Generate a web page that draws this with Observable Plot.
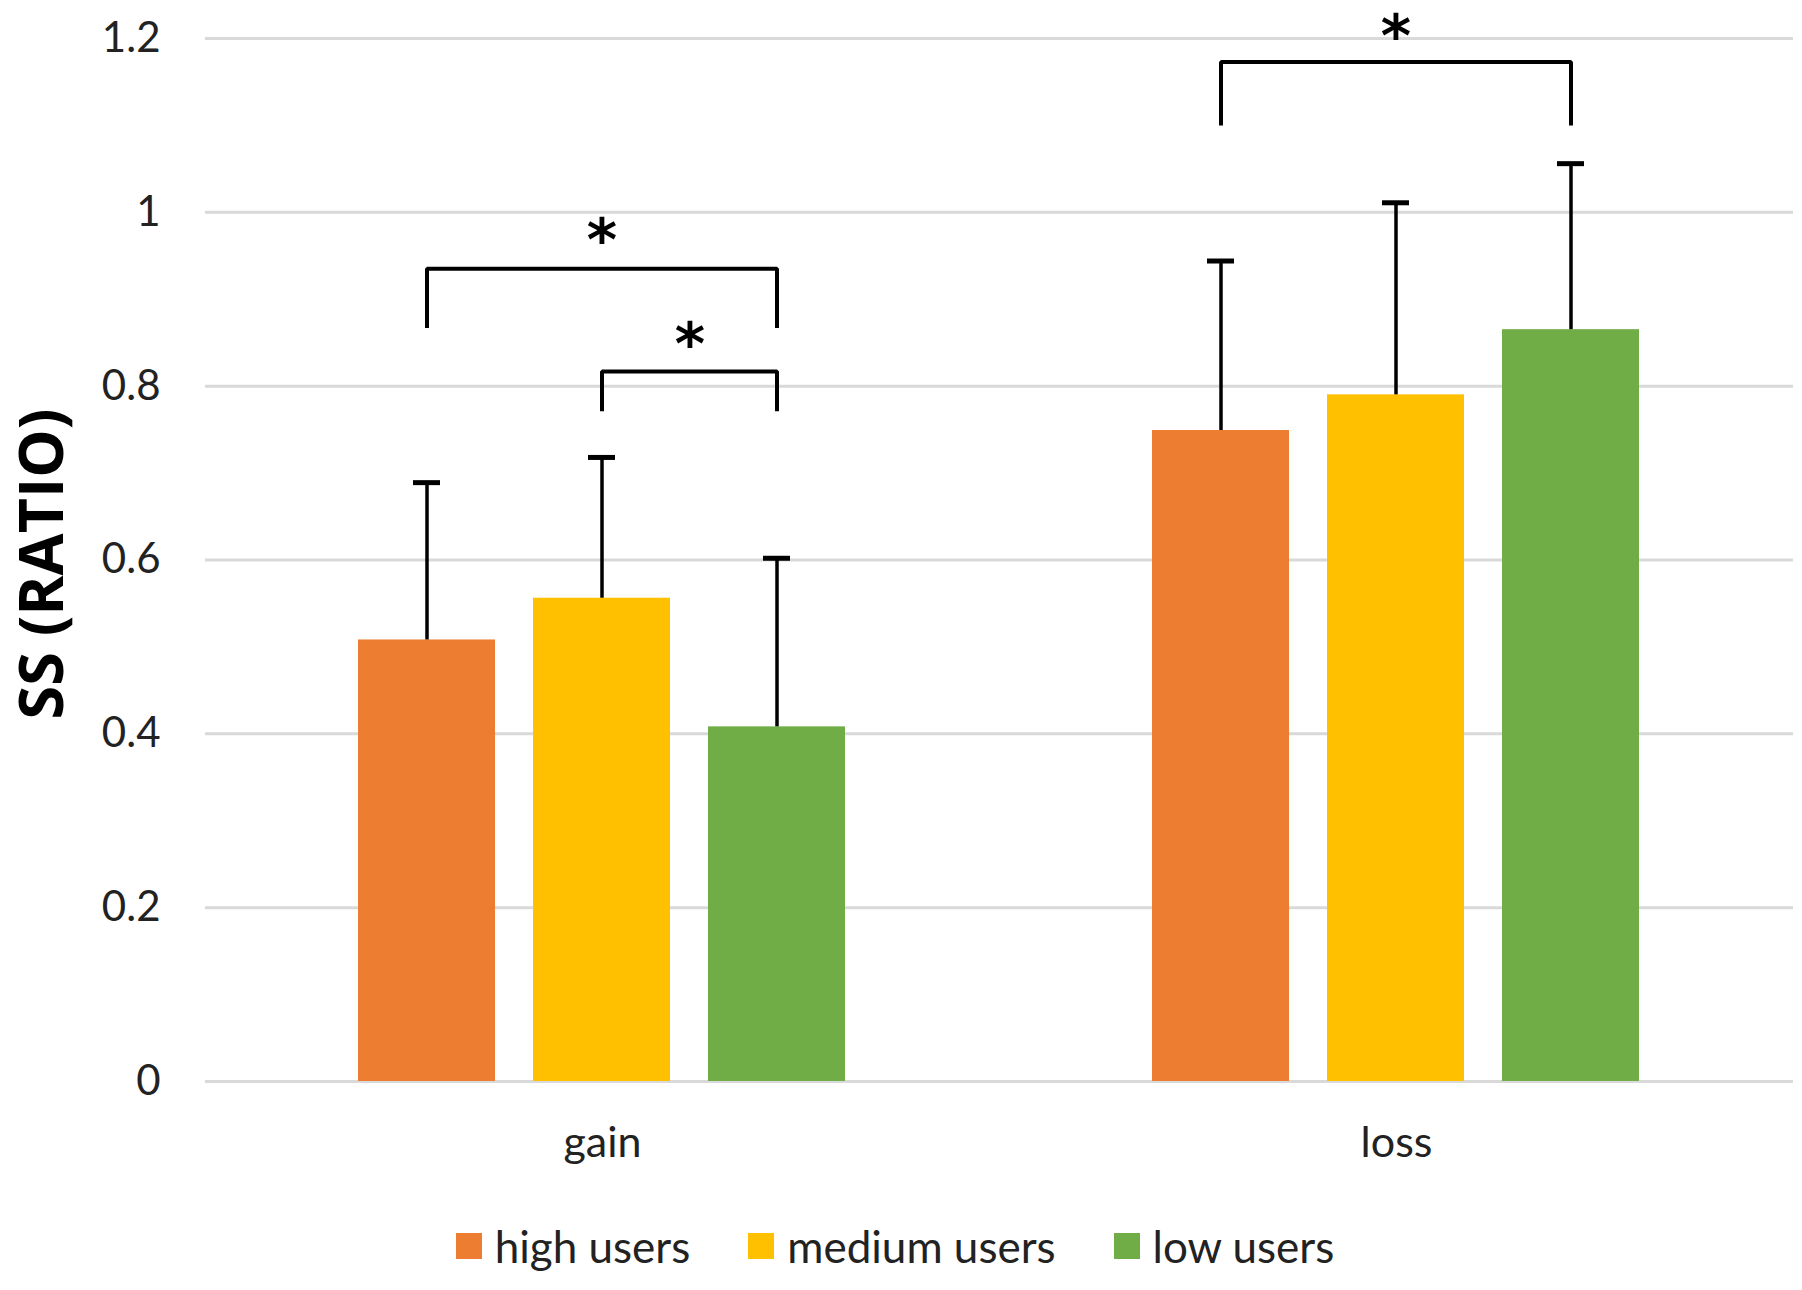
<!DOCTYPE html>
<html>
<head>
<meta charset="utf-8">
<script src="https://cdn.jsdelivr.net/npm/d3@7"></script>
<script src="https://cdn.jsdelivr.net/npm/@observablehq/plot@0.6"></script>
<style>
  html, body { margin: 0; padding: 0; background: #fff; }
  body { width: 1802px; height: 1290px; position: relative; overflow: hidden; font-family: Lato, "Open Sans", sans-serif; }
  #chart { position: absolute; left: 0; top: 0; }
  #legend { position: absolute; left: 0; top: 1221px; width: 1790px; padding-right: 12px; height: 50px;
            display: flex; justify-content: center; align-items: center;
            font-size: 44px; color: #222; font-family: Lato, sans-serif; }
  .item { display: flex; align-items: center; margin: 0 29px; }
  .sw { width: 26px; height: 26px; margin-right: 13px; flex: none; }
</style>
</head>
<body>
<div id="chart"></div>
<div id="legend"></div>
<script>
// ---- data ----
const conditions = ["gain", "loss"];
const groups = ["high users", "medium users", "low users"];
const colors = ["#ED7D31", "#FFC000", "#70AD47"];
const gainMeans = [0.508, 0.556, 0.408];
const gainSD    = [0.181, 0.162, 0.194];
const lossMeans = [0.749, 0.790, 0.865];
const lossSD    = [0.195, 0.221, 0.191];
const yTicks = [0, 0.2, 0.4, 0.6, 0.8, 1, 1.2];
const yLabel = "SS (RATIO)";
// significance brackets
const bracketCond = ["gain", "gain", "loss"];
const bracketFrom = ["high users", "medium users", "high users"];
const bracketTo   = ["low users", "low users", "low users"];
const bracketTop  = [0.935, 0.817, 1.173];
const bracketLeg  = [0.867, 0.771, 1.100];
const starY       = [0.977, 0.857, 1.212];
const starText    = ["*", "*", "*"];

// ---- tables built from the arrays ----
const bars = [
  ...groups.map((g, i) => ({cond: "gain", group: g, mean: gainMeans[i], sd: gainSD[i]})),
  ...groups.map((g, i) => ({cond: "loss", group: g, mean: lossMeans[i], sd: lossSD[i]}))
];
const bracketPts = bracketCond.flatMap((c, i) => [
  {id: i, cond: c, x: bracketFrom[i], y: bracketLeg[i]},
  {id: i, cond: c, x: bracketFrom[i], y: bracketTop[i]},
  {id: i, cond: c, x: bracketTo[i], y: bracketTop[i]},
  {id: i, cond: c, x: bracketTo[i], y: bracketLeg[i]}
]);

// ---- layout ----
const W = 1802, H = 1200, mL = 205, mR = 9, mT = 38, mB = 119;
const xPadIn = 0.216, xPadOut = 0.864;
const facetW = (W - mL - mR) / conditions.length;
const xStep = facetW / (groups.length - xPadIn + 2 * xPadOut);

const starMarks = bracketCond.map((c, i) => {
  const mid = (groups.indexOf(bracketFrom[i]) + groups.indexOf(bracketTo[i])) / 2;
  const base = Math.floor(mid);
  return Plot.text([{cond: c, x: groups[base], y: starY[i], t: starText[i]}], {
    fx: "cond", x: "x", y: "y", text: "t",
    dx: (mid - base) * xStep, dy: 9,
    fontSize: 58, fontWeight: 700, fill: "#000", fontFamily: "'DejaVu Sans', sans-serif"
  });
});

const chart = Plot.plot({
  width: W, height: H,
  marginLeft: mL, marginRight: mR, marginTop: mT, marginBottom: mB,
  style: {fontFamily: "Lato, sans-serif", color: "#222", background: "#fff", overflow: "visible"},
  fx: {domain: conditions, paddingInner: 0, paddingOuter: 0, label: null},
  x: {domain: groups, paddingInner: xPadIn, paddingOuter: xPadOut, axis: null},
  y: {domain: [0, 1.2], axis: null},
  color: {domain: groups, range: colors},
  marks: [
    Plot.ruleY(yTicks, {stroke: "#d9d9d9", strokeWidth: 3}),
    Plot.barY(bars, {fx: "cond", x: "group", y: "mean", fill: "group"}),
    Plot.ruleX(bars, {fx: "cond", x: "group", y1: "mean", y2: d => d.mean + d.sd, stroke: "#000", strokeWidth: 3.5}),
    Plot.tickY(bars, {fx: "cond", x: "group", y: d => d.mean + d.sd, stroke: "#000", strokeWidth: 5, insetLeft: 55, insetRight: 55}),
    Plot.line(bracketPts, {fx: "cond", x: "x", y: "y", z: "id", stroke: "#000", strokeWidth: 4, strokeLinejoin: "miter", strokeLinecap: "butt"}),
    ...starMarks,
    Plot.axisY({ticks: yTicks, tickSize: 0, tickPadding: 45, tickFormat: d => String(+d.toFixed(1)), fontSize: 42, label: null}),
    Plot.axisFx({anchor: "bottom", tickSize: 0, tickPadding: 45, fontSize: 43, label: null}),
    Plot.text([yLabel], {fx: () => conditions[0], frameAnchor: "left", textAnchor: "middle", lineAnchor: "middle",
      rotate: -90, dx: -162, dy: 4,
      fontSize: 61, fontWeight: 700, fontFamily: "'Open Sans', sans-serif", fill: "#000"})
  ]
});
document.getElementById("chart").appendChild(chart);

// ---- legend (HTML, below the SVG) ----
const legend = document.getElementById("legend");
groups.forEach((g, i) => {
  const item = document.createElement("div");
  item.className = "item";
  const sw = document.createElement("span");
  sw.className = "sw";
  sw.style.background = colors[i];
  const label = document.createElement("span");
  label.textContent = g;
  item.appendChild(sw);
  item.appendChild(label);
  legend.appendChild(item);
});
</script>
</body>
</html>
